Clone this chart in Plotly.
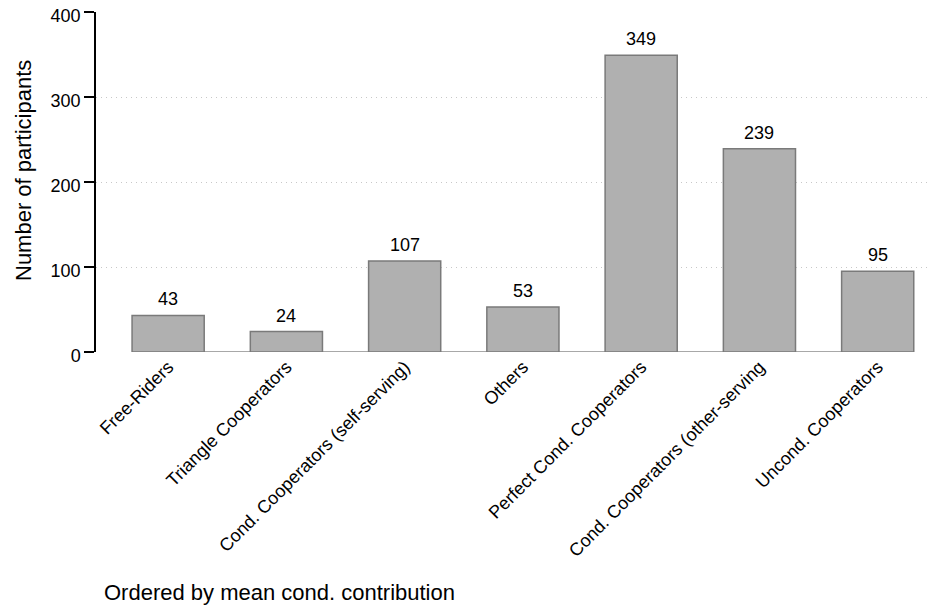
import plotly.graph_objects as go

categories = ["Free-Riders", "Triangle Cooperators", "Cond. Cooperators (self-serving)",
              "Others", "Perfect Cond. Cooperators", "Cond. Cooperators (other-serving",
              "Uncond. Cooperators"]
counts = [43, 24, 107, 53, 349, 239, 95]
y_ticks = [0, 100, 200, 300, 400]

FONT = "Liberation Sans, Arial, Helvetica, sans-serif"
# page body has an 8px margin, so the figure is a bit smaller than the window
W, H = 930, 597
L, R, T, B = 88, 0, 4, 253
PW, PH = W - L - R, H - T - B

fig = go.Figure()
fig.add_trace(go.Bar(
    x=list(range(len(categories))), y=counts, width=0.61,
    marker=dict(color="#b0b0b0", line=dict(color="#7a7a7a", width=1.5)),
    hoverinfo="skip", showlegend=False,
))

for i, v in enumerate(counts):
    fig.add_annotation(x=i, y=v, text=str(v), showarrow=False,
                       xanchor="center", yanchor="bottom", yshift=4,
                       font=dict(family=FONT, size=18, color="#000000"))

# baseline from first to last category
fig.add_shape(type="line", xref="x", yref="y", x0=0, x1=len(categories) - 1,
              y0=0, y1=0, line=dict(color="#a8a8a8", width=2), layer="below")

fig.add_annotation(xref="paper", yref="paper", x=(94 - L) / PW,
                   y=-(584 - (H - B)) / PH, xanchor="left", yanchor="middle",
                   text="Ordered by mean cond. contribution", showarrow=False,
                   font=dict(family=FONT, size=22, color="#000000"))

fig.add_annotation(xref="paper", yref="paper", x=(15 - L) / PW,
                   y=((H - B) - 163) / PH, xanchor="center", yanchor="middle",
                   text="Number of participants", showarrow=False, textangle=-90,
                   font=dict(family=FONT, size=22, color="#000000"))

fig.update_layout(
    width=W, height=H,
    margin=dict(l=L, r=R, t=T, b=B, pad=0, autoexpand=False),
    paper_bgcolor="white", plot_bgcolor="white",
    font=dict(family=FONT, size=18, color="#000000"),
    xaxis=dict(
        range=[-0.61, 6.51], tickmode="array", automargin=False,
        tickvals=list(range(len(categories))), ticktext=categories,
        tickangle=-45, showgrid=False, zeroline=False, showline=False,
        ticks="", tickfont=dict(family=FONT, size=18, color="#000000"),
        fixedrange=True,
    ),
    yaxis=dict(
        range=[0, 400], tickmode="array", tickvals=y_ticks, automargin=False,
        ticktext=[str(t) for t in y_ticks], ticklabeloverflow="allow",
        ticklabelshift=4,
        showgrid=True, gridcolor="#c8c8c8", griddash="1px,4px", gridwidth=1,
        zeroline=False, showline=True, linecolor="#000000", linewidth=1.5,
        ticks="outside", ticklen=10, tickwidth=1.5, tickcolor="#000000",
        tickfont=dict(family=FONT, size=18, color="#000000"),
        fixedrange=True,
    ),
)

fig.write_html("out.html")
